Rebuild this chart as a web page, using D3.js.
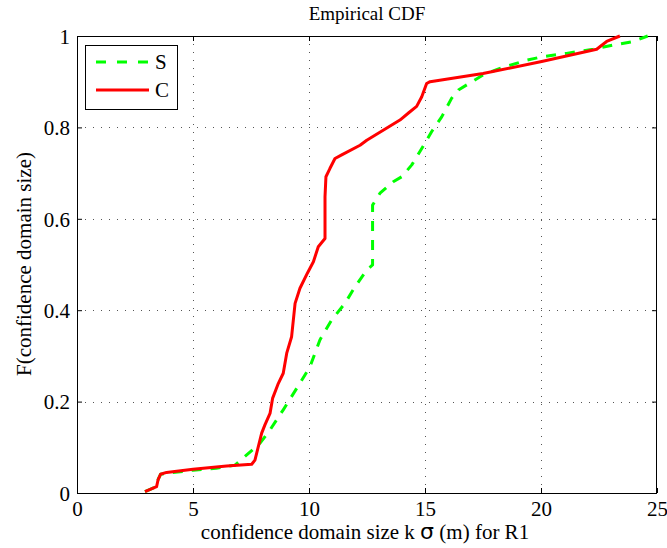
<!DOCTYPE html>
<html>
<head>
<meta charset="utf-8">
<script src="https://cdn.jsdelivr.net/npm/d3@7"></script>
<style>
  body { margin: 0; background: #fff; }
  svg { display: block; }
  text { font-family: "Liberation Serif", "Times New Roman", serif; fill: #000; }
</style>
</head>
<body>
<svg id="chart" width="667" height="548"></svg>
<script>
// ---- data ----
const xTicks = [0, 5, 10, 15, 20, 25];
const yTicks = [0, 0.2, 0.4, 0.6, 0.8, 1];
const yTickLabels = ["0", "0.2", "0.4", "0.6", "0.8", "1"];
const seriesNames = ["S", "C"];

const sX = [2.93, 3.43, 3.5, 3.6, 3.86, 5.0, 6.0, 6.81, 7.1, 7.6, 7.89, 8.32, 8.89, 9.47, 10.04, 10.47, 10.98, 11.55, 11.98, 12.49, 12.74, 12.74, 13.06, 13.63, 14.0, 14.43, 14.86, 15.29, 15.72, 16.15, 16.44, 16.8, 17.51, 18.23, 19.38, 20.1, 21.1, 22.25, 23.1, 23.98, 24.6];
const sY = [0.003, 0.014, 0.03, 0.041, 0.043, 0.05, 0.054, 0.061, 0.074, 0.096, 0.109, 0.138, 0.182, 0.229, 0.276, 0.335, 0.379, 0.415, 0.451, 0.488, 0.499, 0.630, 0.656, 0.681, 0.692, 0.718, 0.754, 0.791, 0.823, 0.864, 0.882, 0.893, 0.915, 0.929, 0.947, 0.955, 0.962, 0.971, 0.98, 0.988, 1.0];

const cX = [2.93, 3.43, 3.5, 3.6, 3.86, 5.0, 6.45, 7.53, 7.67, 7.96, 8.10, 8.32, 8.43, 8.68, 8.89, 9.04, 9.25, 9.40, 9.61, 9.93, 10.19, 10.40, 10.69, 10.69, 10.73, 10.9, 11.12, 11.41, 12.2, 12.49, 13.92, 14.3, 14.64, 14.86, 15.07, 15.22, 17.5, 20.03, 22.4, 22.83, 23.4];
const cY = [0.003, 0.014, 0.03, 0.041, 0.045, 0.052, 0.059, 0.063, 0.072, 0.131, 0.149, 0.174, 0.207, 0.240, 0.262, 0.306, 0.342, 0.415, 0.448, 0.481, 0.506, 0.539, 0.557, 0.648, 0.692, 0.71, 0.732, 0.74, 0.761, 0.772, 0.816, 0.832, 0.846, 0.867, 0.896, 0.9, 0.918, 0.944, 0.971, 0.988, 1.0];

// ---- layout ----
const L = 77, R = 657, T = 36, B = 493;
const SERIF = "'Liberation Serif', 'Times New Roman', serif";
const svg = d3.select("#chart");
const x = d3.scaleLinear().domain([0, 25]).range([L, R]);
const y = d3.scaleLinear().domain([0, 1]).range([B, T]);

// grid
const grid = svg.append("g");
grid.selectAll(".vg").data(xTicks.slice(1, -1)).enter().append("line")
  .attr("x1", d => Math.round(x(d)) + 0.5).attr("x2", d => Math.round(x(d)) + 0.5)
  .attr("y1", T).attr("y2", B)
  .attr("stroke", "#555").attr("stroke-width", 1).attr("stroke-dasharray", "1,7");
grid.selectAll(".hg").data(yTicks.slice(1, -1)).enter().append("line")
  .attr("y1", d => Math.round(y(d)) + 0.5).attr("y2", d => Math.round(y(d)) + 0.5)
  .attr("x1", L).attr("x2", R)
  .attr("stroke", "#555").attr("stroke-width", 1).attr("stroke-dasharray", "1,7");

// axes (ticks inward, labels)
const xAxis = d3.axisBottom(x).tickValues(xTicks).tickSize(-5).tickPadding(8).tickFormat(d3.format("d"));
const gx = svg.append("g").attr("transform", `translate(0,${B})`).call(xAxis);
const yAxis = d3.axisLeft(y).tickValues(yTicks).tickSize(-5).tickPadding(7).tickFormat((d, i) => yTickLabels[i]);
const gy = svg.append("g").attr("transform", `translate(${L},0)`).call(yAxis);
const gxt = svg.append("g").attr("transform", `translate(0,${T})`).call(d3.axisTop(x).tickValues(xTicks).tickSize(-5).tickFormat(""));
const gyr = svg.append("g").attr("transform", `translate(${R},0)`).call(d3.axisRight(y).tickValues(yTicks).tickSize(-5).tickFormat(""));
[gx, gy, gxt, gyr].forEach(g => {
  g.attr("font-family", SERIF).attr("font-size", 21);
  g.select(".domain").remove();
  g.selectAll(".tick line").attr("stroke", "#000");
  g.selectAll("text").style("font-family", SERIF).style("font-size", "21px").attr("fill", "#000");
});
gx.selectAll("text").attr("dy", "0.71em");
gy.selectAll("text").attr("dy", "0.35em");

// box
svg.append("rect").attr("x", L + 0.5).attr("y", T + 0.5).attr("width", R - L - 1).attr("height", B - T)
  .attr("fill", "none").attr("stroke", "#000").attr("stroke-width", 1);

// lines
const line = d3.line().x(d => x(d[0])).y(d => y(d[1]));
const sData = sX.map((v, i) => [v, sY[i]]);
const cData = cX.map((v, i) => [v, cY[i]]);
svg.append("path").datum(sData).attr("d", line)
  .attr("fill", "none").attr("stroke", "#00ff00").attr("stroke-width", 3)
  .attr("stroke-dasharray", "10,9").attr("stroke-linejoin", "round");
svg.append("path").datum(cData).attr("d", line)
  .attr("fill", "none").attr("stroke", "#ff0000").attr("stroke-width", 3)
  .attr("stroke-linejoin", "round");

// title & labels
svg.append("text").attr("x", 367).attr("y", 20).attr("text-anchor", "middle")
  .style("font-family", SERIF).style("font-size", "19px").text("Empirical CDF");
const xl = svg.append("text").attr("x", 365).attr("y", 539).attr("text-anchor", "middle")
  .style("font-family", SERIF).style("font-size", "21px");
xl.append("tspan").text("confidence domain size k ");
xl.append("tspan").style("font-family", "'DejaVu Sans', sans-serif").style("font-size", "22px").text("σ");
xl.append("tspan").text(" (m) for R1");
svg.append("text").attr("transform", "translate(31,264) rotate(-90)").attr("text-anchor", "middle")
  .style("font-family", SERIF).style("font-size", "21px").text("F(confidence domain size)");

// legend
const lg = svg.append("g");
lg.append("rect").attr("x", 85.5).attr("y", 45.5).attr("width", 92).attr("height", 64)
  .attr("fill", "#fff").attr("stroke", "#000").attr("stroke-width", 1);
const legendColors = ["#00ff00", "#ff0000"];
const legendDash = ["10,11", null];
seriesNames.forEach((name, i) => {
  const yy = 62 + i * 28;
  lg.append("line").attr("x1", 96).attr("x2", 149).attr("y1", yy).attr("y2", yy)
    .attr("stroke", legendColors[i]).attr("stroke-width", 3)
    .attr("stroke-dasharray", legendDash[i]);
  lg.append("text").attr("x", 155).attr("y", yy + 7).style("font-family", SERIF).style("font-size", "21px").text(name);
});
</script>
</body>
</html>
